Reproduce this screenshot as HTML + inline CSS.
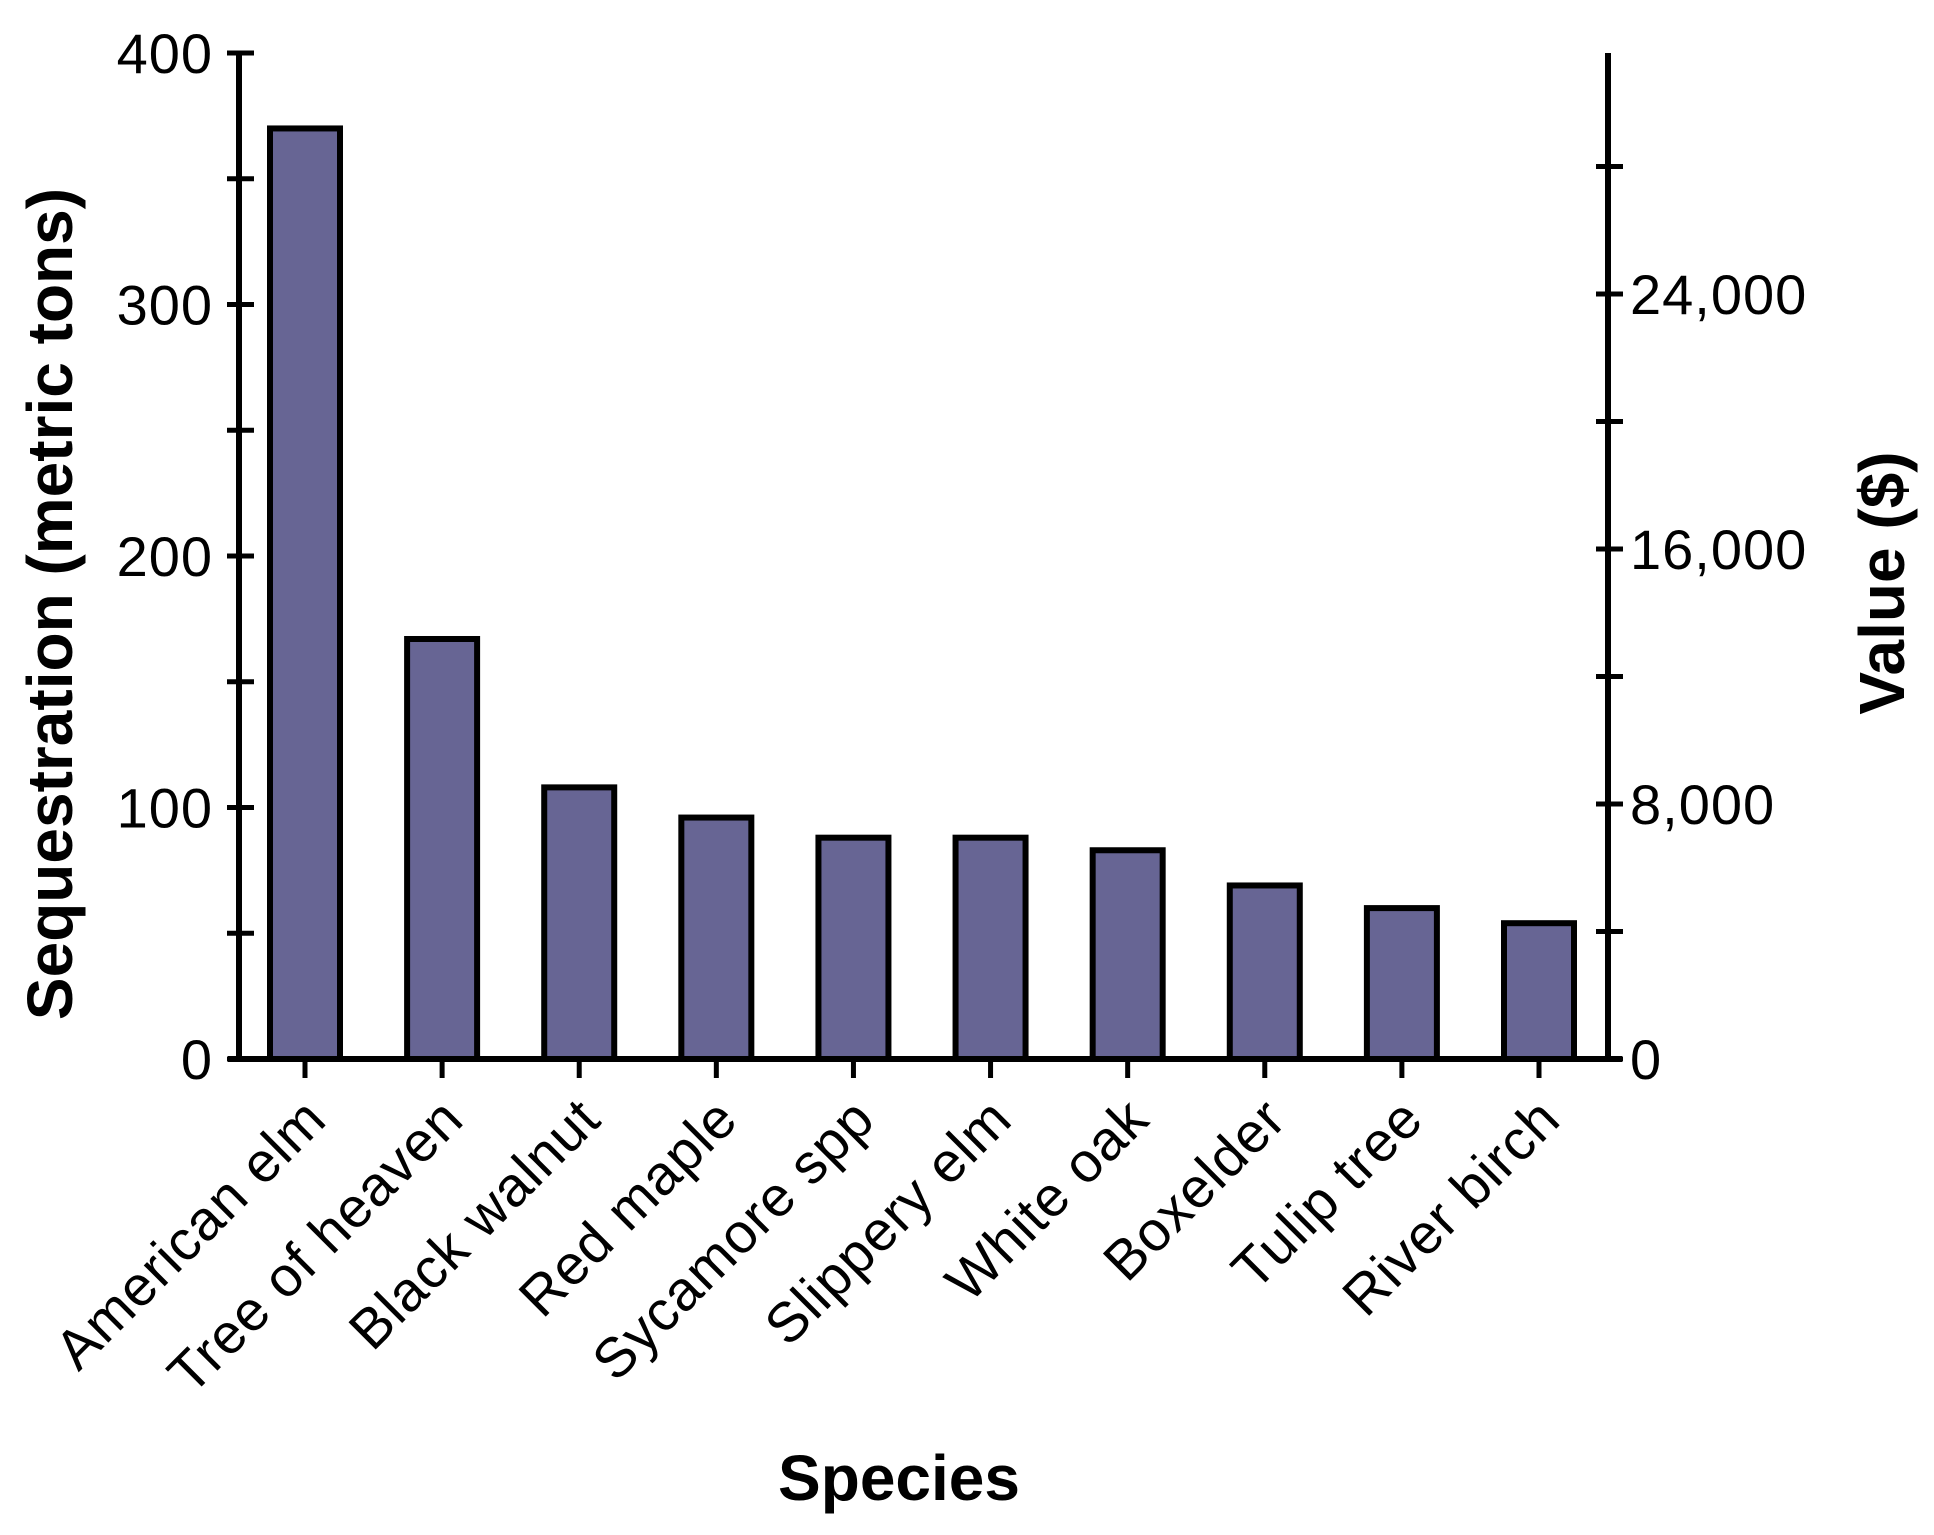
<!DOCTYPE html>
<html><head><meta charset="utf-8"><style>
html,body{margin:0;padding:0;background:#fff;}
svg{display:block;}
text{font-family:"Liberation Sans",Arial,sans-serif;fill:#000;}
</style></head><body>
<svg id="chart" width="1934" height="1535" viewBox="0 0 1934 1535" xmlns="http://www.w3.org/2000/svg">
<g id="bars"></g>
<g id="axes"></g>
<text x="0" y="0" transform="translate(72,604) rotate(-90)" text-anchor="middle" font-size="64" font-weight="bold">Sequestration (metric tons)</text>
<text x="0" y="0" transform="translate(1904,583) rotate(-90)" text-anchor="middle" font-size="64" font-weight="bold">Value ($)</text>
<text x="899" y="1500" text-anchor="middle" font-size="64" font-weight="bold">Species</text>
</svg>
<script>
const categories = ["American elm","Tree of heaven","Black walnut","Red maple","Sycamore spp","Slippery elm","White oak","Boxelder","Tulip tree","River birch"];
const sequestration = [370, 167, 108, 96, 88, 88, 83, 69, 60, 54];
const leftTicks = [0, 50, 100, 150, 200, 250, 300, 350, 400];
const leftTickLabels = ["0", "", "100", "", "200", "", "300", "", "400"];
const rightTicks = [0, 4000, 8000, 12000, 16000, 20000, 24000, 28000];
const rightTickLabels = ["0", "", "8,000", "", "16,000", "", "24,000", ""];

const NS = "http://www.w3.org/2000/svg";
const X0 = 239, X1 = 1608, Y0 = 1059, Ytop = 53;
const leftMax = 400, rightMax = 31560;
function yL(v){ return Y0 - (v / leftMax) * (Y0 - Ytop); }
function yR(v){ return Y0 - (v / rightMax) * (Y0 - Ytop); }
function xC(i){ return 305 + i * (1539 - 305) / (categories.length - 1); }
const BW = 70;

function mk(tag, attrs, parent){
  const e = document.createElementNS(NS, tag);
  for (const k in attrs) e.setAttribute(k, attrs[k]);
  parent.appendChild(e);
  return e;
}
const bars = document.getElementById("bars");
const axes = document.getElementById("axes");

categories.forEach((c, i) => {
  const top = yL(sequestration[i]);
  const r = mk("rect", {x: xC(i) - BW/2, y: top, width: BW, height: Y0 - top, fill: "#676594", stroke: "#000", "stroke-width": 6}, bars);
  
  
  const t = mk("line", {x1: xC(i), y1: Y0, x2: xC(i), y2: 1078, stroke: "#000", "stroke-width": 5}, axes);
  
  
  const lx = xC(i) + 24, ly = 1122;
  const lab = mk("text", {x: lx, y: ly, "text-anchor": "end", "font-size": 56, "letter-spacing": 1, transform: "rotate(-45 " + lx + " " + ly + ")"}, axes);
  lab.textContent = c;
  
  
});

const la = mk("line", {x1: X0, y1: Ytop, x2: X0, y2: Y0 + 3, stroke: "#000", "stroke-width": 6}, axes);


const ra = mk("line", {x1: X1, y1: Ytop, x2: X1, y2: Y0 + 3, stroke: "#000", "stroke-width": 6}, axes);


const xa = mk("line", {x1: 228, y1: Y0, x2: 1622, y2: Y0, stroke: "#000", "stroke-width": 6}, axes);



leftTicks.forEach((v, i) => {
  const y = yL(v);
  const t = mk("line", {x1: 227, y1: y, x2: 254, y2: y, stroke: "#000", "stroke-width": 5}, axes);
  
  
  if (leftTickLabels[i]) {
    const l = mk("text", {x: 213, y: y + 20, "text-anchor": "end", "font-size": 56, "letter-spacing": 1}, axes);
    l.textContent = leftTickLabels[i];
    
    
  }
});
rightTicks.forEach((v, i) => {
  const y = yR(v);
  const t = mk("line", {x1: 1596, y1: y, x2: 1623, y2: y, stroke: "#000", "stroke-width": 5}, axes);
  
  
  if (rightTickLabels[i]) {
    const l = mk("text", {x: 1630, y: y + 20, "text-anchor": "start", "font-size": 56, "letter-spacing": 1}, axes);
    l.textContent = rightTickLabels[i];
    
    
  }
});
</script>
</body></html>
